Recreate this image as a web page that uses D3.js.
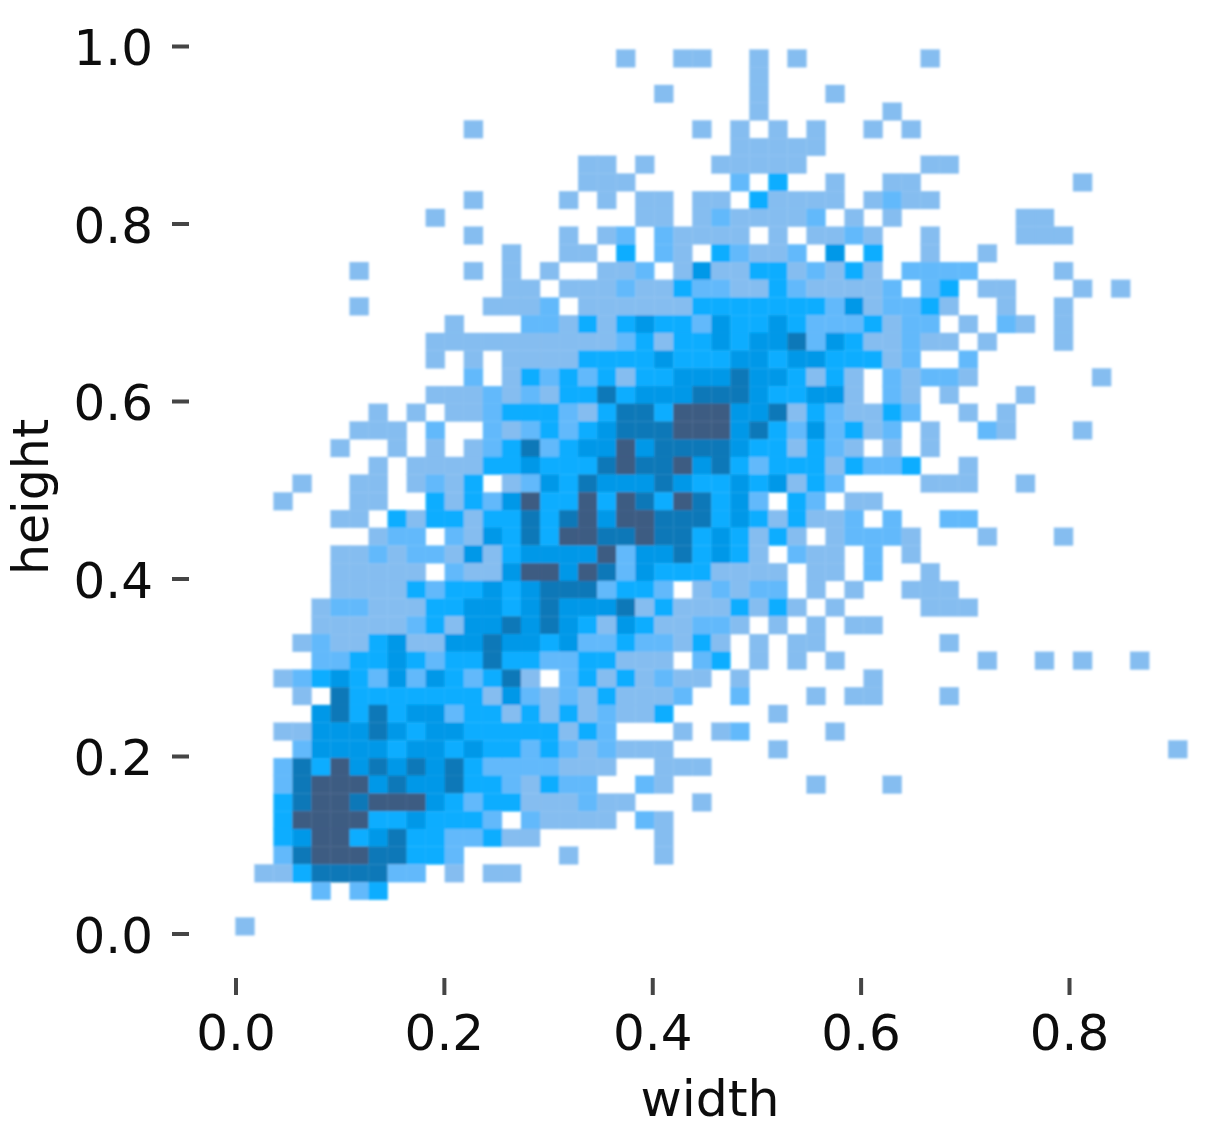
<!DOCTYPE html>
<html>
<head>
<meta charset="utf-8">
<script src="https://d3js.org/d3.v7.min.js"></script>
<style>
    html, body { margin: 0; padding: 0; background: #fff; }
    svg { display: block; }
    text { font-family: "DejaVu Sans", sans-serif; fill: #111; }
</style>
</head>
<body>
<svg width="1211" height="1135"></svg>
<script>
// Tick labels of both axes
const xTicks = [0.0, 0.2, 0.4, 0.6, 0.8];
const yTicks = [0.0, 0.2, 0.4, 0.6, 0.8, 1.0];

// Bin layout of the histogram (50 x 50 bins)
const xStart = 0.0;
const xBin = 0.01827;
const yTop = 0.996;
const yBin = 0.01996;

// Shade class of every bin, one string per row from top to bottom, 0 = empty
const binRows = [
    "0000000000" + "0000000000" + "1001100101" + "0000001000" + "0000000000",
    "0000000000" + "0000000000" + "0000000100" + "0000000000" + "0000000000",
    "0000000000" + "0000000000" + "0010000100" + "0100000000" + "0000000000",
    "0000000000" + "0000000000" + "0000000100" + "0000100000" + "0000000000",
    "0000000000" + "0010000000" + "0000101010" + "1001010000" + "0000000000",
    "0000000000" + "0000000000" + "0000001111" + "1000000000" + "0000000000",
    "0000000000" + "0000000011" + "0100011111" + "0000001100" + "0000000000",
    "0000000000" + "0000000011" + "1000002030" + "0100110000" + "0000100000",
    "0000000000" + "0010000101" + "0110110311" + "1101211000" + "0000000000",
    "0000000000" + "1000000000" + "0110121111" + "2010100000" + "0110000000",
    "0000000000" + "0010000101" + "2021111010" + "1121001000" + "0111000000",
    "0000000000" + "0000100110" + "3021032112" + "0403001001" + "0000000000",
    "0000001000" + "0010101001" + "1201411331" + "2131022220" + "0001000000",
    "0000000000" + "0000110111" + "2113221132" + "1111202301" + "1000101000",
    "0000001000" + "0001112011" + "1111333333" + "3241223100" + "1001000000",
    "0000000000" + "0100022131" + "3433243343" + "2223122010" + "2101000000",
    "0000000000" + "1111111111" + "2313343445" + "2431121101" + "0001000000",
    "0000000000" + "1010111133" + "3343334434" + "4333120020" + "0000000000",
    "0000000000" + "0020132323" + "1334445443" + "1310212210" + "0000010000",
    "0000000000" + "1112121335" + "3444555433" + "4410210100" + "0100000000",
    "0000000101" + "0112333213" + "5536664451" + "3211320010" + "1000000000",
    "0000001110" + "2002123234" + "5556664532" + "4231201002" + "1000100000",
    "0000010010" + "1012352344" + "6455554331" + "3210101000" + "0000000000",
    "0000000101" + "1113343335" + "6556453233" + "3132230010" + "0000000000",
    "0001001101" + "2130124354" + "4454334341" + "3200001110" + "0100000000",
    "0010001100" + "3132463363" + "6536534203" + "2011000000" + "0000000000",
    "0000011031" + "3313353564" + "6655534313" + "1120200220" + "0000000000",
    "0000000122" + "0214353665" + "5655343131" + "0122210001" + "0001000000",
    "0000011212" + "2141344446" + "2445343102" + "1102010000" + "0000000000",
    "0000011111" + "0211466465" + "2433311110" + "1102001000" + "0000000000",
    "0000011113" + "2334345552" + "3320121220" + "1010011100" + "0000000000",
    "0000122111" + "3344345444" + "5131113131" + "0100001110" + "0000000000",
    "0000111112" + "3144545431" + "4311221010" + "1011000000" + "0000000000",
    "0001211341" + "1445443422" + "3221310101" + "1000000100" + "0000000000",
    "0000223343" + "2335332233" + "1110230101" + "0100000001" + "0010100100",
    "0012343242" + "4323510231" + "3121101000" + "0001000000" + "0000000000",
    "0001053333" + "3331421213" + "1112002000" + "1011000100" + "0000000000",
    "0000453534" + "4233131312" + "1130000010" + "0000000000" + "0000000000",
    "0011444543" + "4433333132" + "0001012000" + "0100000000" + "0000000000",
    "0002444434" + "4343323212" + "1110000010" + "0000000000" + "0000000001",
    "0025364545" + "4532222111" + "0011100000" + "0000000000" + "0000000000",
    "0025666454" + "4533213220" + "0210000000" + "1000100000" + "0000000000",
    "0035665666" + "4323311121" + "1000100000" + "0000000000" + "0000000000",
    "0036666334" + "3332021111" + "0210000000" + "0000000000" + "0000000000",
    "0034663453" + "3223110000" + "0010000000" + "0000000000" + "0000000000",
    "0025666553" + "3200000100" + "0010000000" + "0000000000" + "0000000000",
    "0113555522" + "0101100000" + "0000000000" + "0000000000" + "0000000000",
    "0000202300" + "0000000000" + "0000000000" + "0000000000" + "0000000000",
    "0000000000" + "0000000000" + "0000000000" + "0000000000" + "0000000000",
    "1000000000" + "0000000000" + "0000000000" + "0000000000" + "0000000000"
];

// Colours of the shade classes 1..6
const shades = ["#85bdf0", "#62b9fb", "#0aadff", "#0098e8", "#0a78b8", "#3d5b82"];

const svg = d3.select("svg");

// The reference is a slightly soft raster, so marks and text get a small blur
const defs = svg.append("defs");
defs.append("filter").attr("id", "softCells")
    .append("feGaussianBlur").attr("stdDeviation", 0.9);
defs.append("filter").attr("id", "softText")
    .append("feGaussianBlur").attr("stdDeviation", 0.45);

// Scales: data values to pixels
const scaleX = d3.scaleLinear().domain([0, 0.8]).range([235.5, 1069]);
const scaleY = d3.scaleLinear().domain([0, 1]).range([933.5, 46]);
const color = d3.scaleOrdinal().domain([1, 2, 3, 4, 5, 6]).range(shades);

// Flatten the rows to one record per non-empty bin
const cells = [];
binRows.forEach((row, r) => {
    row.split("").forEach((ch, c) => {
        if (ch !== "0") cells.push({ row: r, col: c, level: +ch });
    });
});

svg.append("g")
    .attr("filter", "url(#softCells)")
    .selectAll("rect")
    .data(cells)
    .enter()
    .append("rect")
    .attr("x", d => scaleX(xStart + d.col * xBin))
    .attr("y", d => scaleY(yTop - d.row * yBin))
    .attr("width", d => scaleX(xStart + (d.col + 1) * xBin) - scaleX(xStart + d.col * xBin))
    .attr("height", d => scaleY(yTop - (d.row + 1) * yBin) - scaleY(yTop - d.row * yBin))
    .attr("fill", d => color(d.level))
    .attr("stroke", d => color(d.level))
    .attr("stroke-width", 0.3);

// Axes
const axisX = d3.axisBottom(scaleX).tickValues(xTicks).tickFormat(d3.format(".1f")).tickSize(17).tickPadding(19);
const axisY = d3.axisLeft(scaleY).tickValues(yTicks).tickFormat(d3.format(".1f")).tickSize(17).tickPadding(19);

const gx = svg.append("g").attr("transform", "translate(0, 978)").attr("filter", "url(#softText)").call(axisX);
const gy = svg.append("g").attr("transform", "translate(189, 0)").attr("filter", "url(#softText)").call(axisY);

[gx, gy].forEach(g => {
    g.select(".domain").remove();
    g.selectAll("line").attr("stroke", "#444").attr("stroke-width", 4);
    g.selectAll("text").style("font-size", "50px").attr("fill", "#111");
});
gy.selectAll("text").attr("dy", "0.37em");

// Axis titles
svg.append("text")
    .attr("x", 710)
    .attr("y", 1116)
    .attr("text-anchor", "middle")
    .attr("filter", "url(#softText)")
    .style("font-size", "50.5px")
    .text("width");

svg.append("text")
    .attr("transform", "translate(48, 497) rotate(-90)")
    .attr("text-anchor", "middle")
    .attr("filter", "url(#softText)")
    .style("font-size", "49px")
    .text("height");
</script>
</body>
</html>
